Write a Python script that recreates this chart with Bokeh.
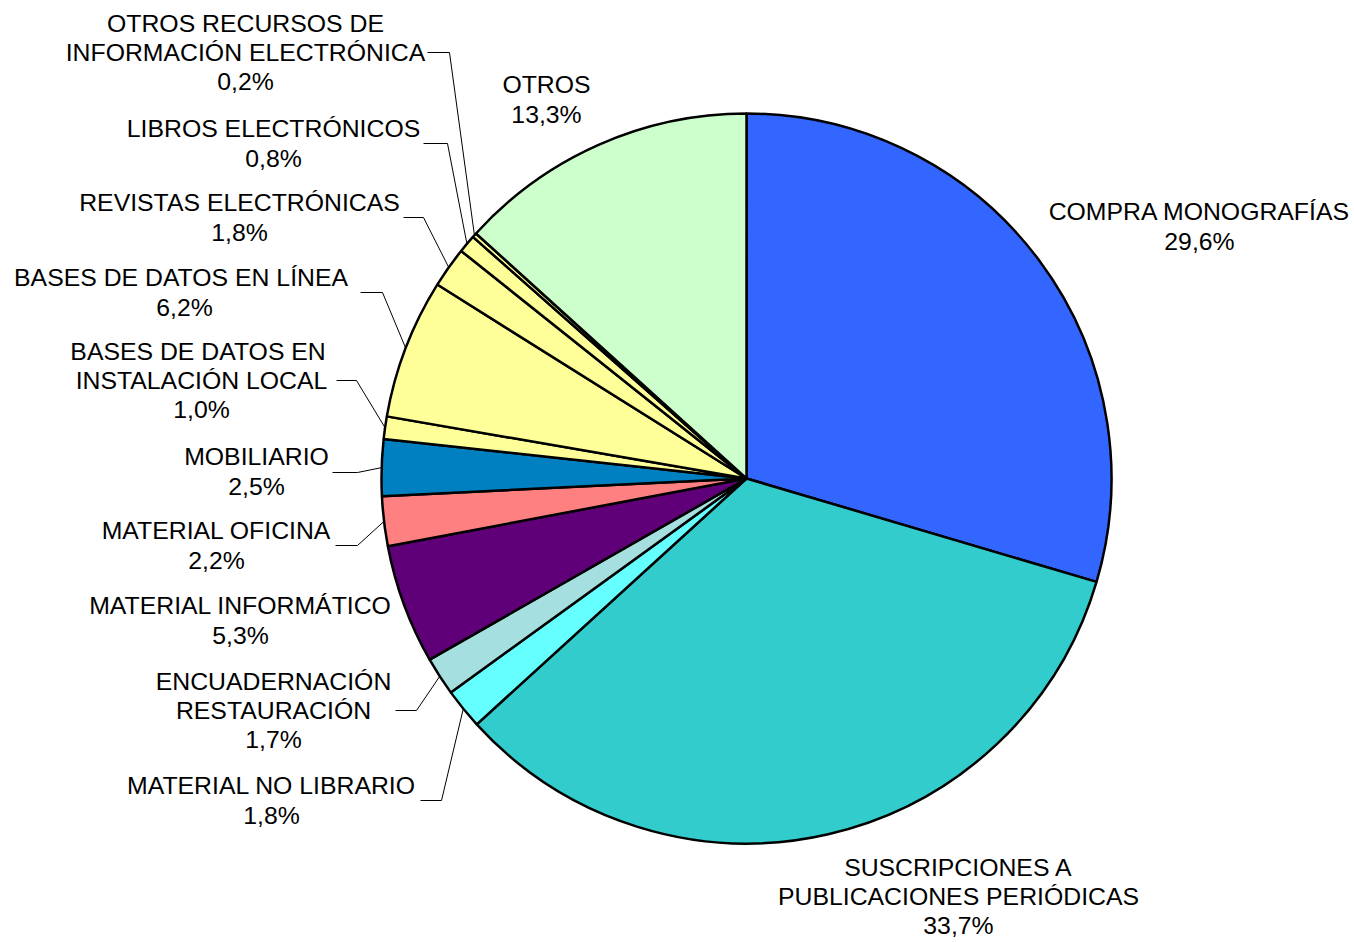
import math
from bokeh.plotting import figure
from bokeh.models import Range1d, ColumnDataSource
from bokeh.core.properties import value
from bokeh.embed import file_html
from bokeh.resources import INLINE

# ---- data ----
categories = [
    "COMPRA MONOGRAFÍAS",
    "SUSCRIPCIONES A\nPUBLICACIONES PERIÓDICAS",
    "MATERIAL NO LIBRARIO",
    "ENCUADERNACIÓN\nRESTAURACIÓN",
    "MATERIAL INFORMÁTICO",
    "MATERIAL OFICINA",
    "MOBILIARIO",
    "BASES DE  DATOS EN\nINSTALACIÓN LOCAL",
    "BASES DE  DATOS EN LÍNEA",
    "REVISTAS ELECTRÓNICAS",
    "LIBROS ELECTRÓNICOS",
    "OTROS RECURSOS DE\nINFORMACIÓN ELECTRÓNICA",
    "OTROS",
]
percentages = [29.6, 33.7, 1.8, 1.7, 5.3, 2.2, 2.5, 1.0, 6.2, 1.8, 0.8, 0.2, 13.3]
colors = ["#3366FF", "#33CCCC", "#66FFFF", "#A6DFDF", "#600078", "#FF8080",
          "#0080C0", "#FFFF99", "#FFFF99", "#FFFF99", "#FFFF99", "#FFFF99", "#CCFFCC"]

# ---- layout (screen pixel coordinates of the reference) ----
W, H = 1354, 942
def sx(x): return x
def sy(y): return H - y

CX, CY, R = 746, 478, 365
# label centre (x, y of block centre)
label_pos = [
    (1199, 226), (958, 896), (271, 800), (273, 710), (240, 620), (216, 545),
    (256, 471), (201, 380), (184, 292), (239, 217), (273, 143), (245, 52), (546, 99),
]
# leader lines: (x_start, y, x_elbow) or None
leaders = [
    None, None, (420, 800, 441), (395, 710, 416), None, (335, 545, 357),
    (332, 472, 357), (336, 380, 356), (360, 292, 382), (403, 217, 423),
    (423, 143, 447), (427, 52, 449), None,
]

total = sum(percentages)
starts, ends, mids = [], [], []
cum = 0.0
for v in percentages:
    a0 = math.pi / 2 - 2 * math.pi * cum / total
    cum += v
    a1 = math.pi / 2 - 2 * math.pi * cum / total
    starts.append(a0); ends.append(a1); mids.append((a0 + a1) / 2)

p = figure(width=W, height=H, output_backend="svg", toolbar_location=None,
           x_range=Range1d(0, W), y_range=Range1d(0, H), min_border=0)
p.axis.visible = False
p.grid.visible = False
p.outline_line_color = None
p.background_fill_color = "white"

src = ColumnDataSource(dict(start=starts, end=ends, color=colors))
p.wedge(x=sx(CX), y=sy(CY), radius=R, start_angle="start", end_angle="end",
        direction="clock", fill_color="color", line_color="black", line_width=2.5,
        source=src)

# leader lines
for ld, m in zip(leaders, mids):
    if ld is None:
        continue
    x0, y0, xe = ld
    px = CX + R * math.cos(m)
    py = CY - R * math.sin(m)
    p.line([sx(x0), sx(xe), sx(px)], [sy(y0), sy(y0), sy(py)],
           line_color="black", line_width=1)

labels = [f"{c}\n{v:.1f}".replace(".", ",") + "%" for c, v in zip(categories, percentages)]
lsrc = ColumnDataSource(dict(x=[sx(a) for a, b in label_pos],
                             y=[sy(b) for a, b in label_pos], t=labels))
p.text(x="x", y="y", text="t", source=lsrc, text_align="center",
       text_baseline="middle", text_font=value("Liberation Sans"),
       text_font_size="24.8px", text_line_height=1.08, text_color="black")

open("out.html", "w").write(file_html(p, INLINE))
